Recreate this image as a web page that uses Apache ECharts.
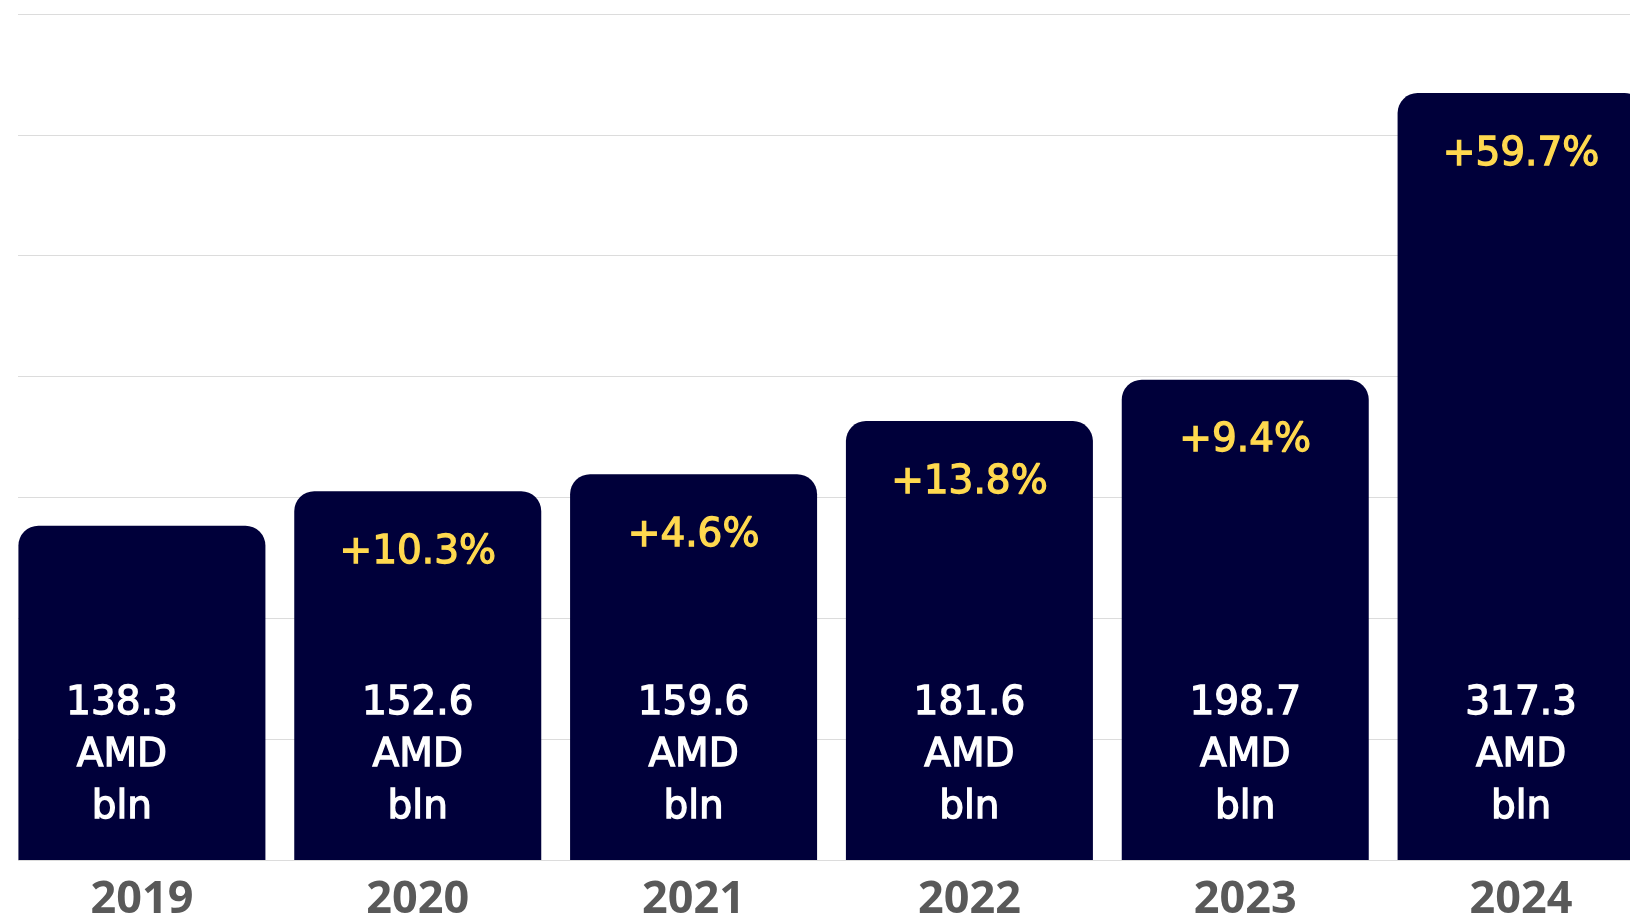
<!DOCTYPE html>
<html>
<head>
<meta charset="utf-8">
<title>AMD bln by year</title>
<script src="https://cdn.jsdelivr.net/npm/echarts@6/dist/echarts.min.js"></script>
<style>
  html, body { margin: 0; padding: 0; background: #fff; }
  #chart { width: 1630px; height: 920px; }
</style>
</head>
<body>
<div id="chart"></div>
<script>
const years = ['2019', '2020', '2021', '2022', '2023', '2024']
const values = [138.3, 152.6, 159.6, 181.6, 198.7, 317.3]
// growth vs previous year, %
const growth = [null, 10.3, 4.6, 13.8, 9.4, 59.7]
const yTicks = { min: 0, max: 350, interval: 50 }

const navy = '#00003a'
const yellow = '#ffd94f'

const chart = echarts.init(document.getElementById('chart'))

const valueData = values.map(function (v, i) {
  const item = { value: v }
  if (i === 0) item.label = { offset: [-20, 0] }
  return item
})

chart.setOption({
  animation: false,
  grid: [
    // grid only for horizontal lines
    { left: 18, right: 0, top: 14, bottom: 60, outerBoundsMode: 'none' },
    // grid for bars (wider than the canvas, last bar is cut)
    { left: 4, width: 1655, top: 14, bottom: 60, outerBoundsMode: 'none' }
  ],
  xAxis: [
    { gridIndex: 0, type: 'value', min: 0, max: 1, show: false },
    {
      gridIndex: 1,
      type: 'category',
      data: years,
      axisLine: { show: false },
      axisTick: { show: false },
      axisLabel: {
        margin: 18,
        color: '#595959',
        fontSize: 45,
        fontWeight: 'bold',
        fontFamily: 'Open Sans'
      }
    }
  ],
  yAxis: [
    {
      gridIndex: 0,
      type: 'value',
      min: yTicks.min,
      max: yTicks.max,
      interval: yTicks.interval,
      axisLine: { show: false },
      axisTick: { show: false },
      axisLabel: { show: false },
      splitLine: { lineStyle: { color: '#dcdcdc', width: 1 } }
    },
    {
      gridIndex: 1,
      type: 'value',
      min: yTicks.min,
      max: yTicks.max,
      interval: yTicks.interval,
      show: false,
      splitLine: { show: false }
    }
  ],
  series: [
    {
      type: 'bar',
      xAxisIndex: 1,
      yAxisIndex: 1,
      data: valueData,
      barWidth: 247,
      itemStyle: { color: navy, borderRadius: [20, 20, 0, 0] },
      label: {
        show: true,
        position: 'insideBottom',
        distance: 26,
        color: '#fff',
        textBorderColor: '#fff',
        textBorderWidth: 1.3,
        fontSize: 39,
        lineHeight: 52,
        fontFamily: 'DejaVu Sans',
        formatter: function (p) { return p.value + '\nAMD\nbln' }
      }
    },
    {
      type: 'bar',
      xAxisIndex: 1,
      yAxisIndex: 1,
      data: values,
      barWidth: 247,
      barGap: '-100%',
      itemStyle: { color: 'rgba(0,0,0,0)' },
      label: {
        show: true,
        position: 'insideTop',
        distance: 42,
        color: yellow,
        textBorderColor: yellow,
        textBorderWidth: 1.3,
        fontSize: 39,
        fontFamily: 'DejaVu Sans',
        formatter: function (p) {
          const g = growth[p.dataIndex]
          return g == null ? '' : '+' + g + '%'
        }
      }
    }
  ]
})
</script>
</body>
</html>
